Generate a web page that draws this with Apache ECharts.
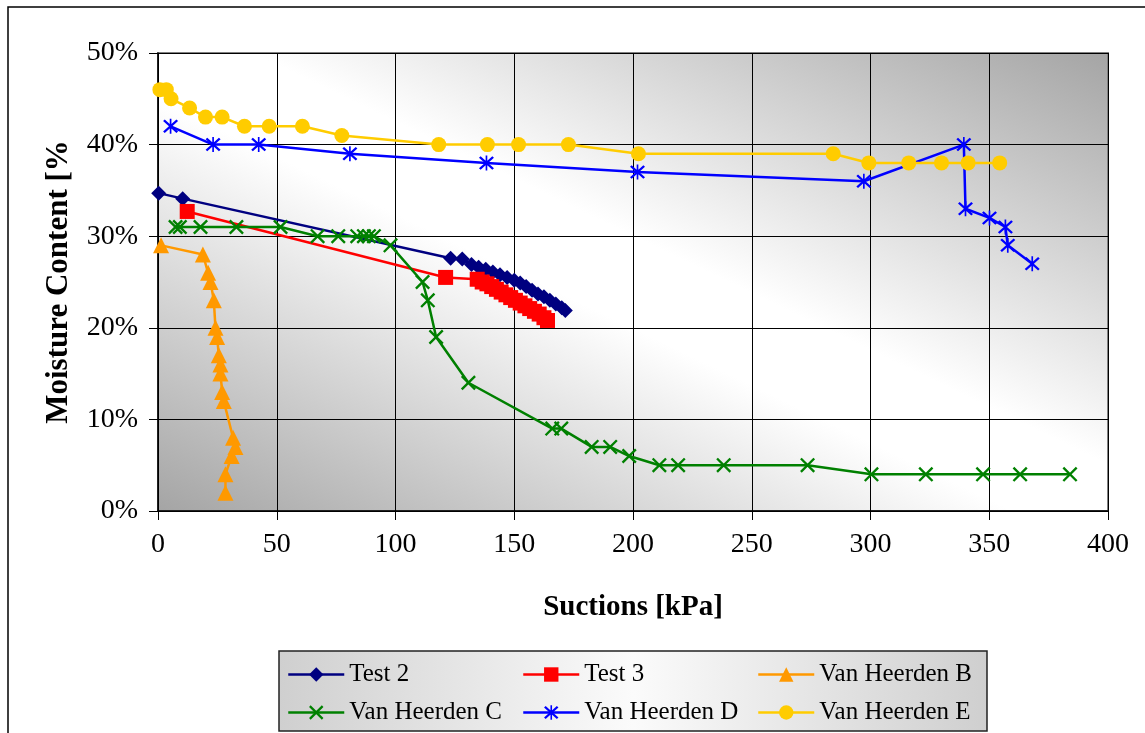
<!DOCTYPE html>
<html>
<head>
<meta charset="utf-8">
<script src="https://cdn.jsdelivr.net/npm/echarts@6/dist/echarts.min.js"></script>
<style>
  html, body { margin: 0; padding: 0; background: #ffffff; }
  #chart { width: 1145px; height: 733px; }
</style>
</head>
<body>
<div id="chart"></div>
<script>
// Suction [kPa] vs moisture content [%] pairs for each test series
const test2 = [
  [0.3, 34.7], [10.4, 34.1], [123.2, 27.6], [128.1, 27.5], [132, 26.9], [135, 26.6],
  [138, 26.4], [141, 26.1], [144, 25.8], [147, 25.5], [150, 25.2], [152.5, 24.9],
  [155, 24.5], [157.5, 24.1], [160, 23.7], [162.5, 23.4], [165, 23.0], [167.5, 22.6],
  [170, 22.2], [171.5, 21.9]
];
const test3 = [
  [12.3, 32.7], [121.1, 25.5], [134.4, 25.3], [136.5, 25.0], [138.5, 24.8], [140.5, 24.5],
  [142.5, 24.2], [144.5, 23.9], [146.5, 23.6], [148.5, 23.3], [150.5, 23.0], [152.5, 22.7],
  [154.5, 22.4], [156.5, 22.1], [158.5, 21.8], [160.5, 21.5], [162.5, 21.1], [164, 20.8]
];
const vanHeerdenB = [
  [1.3, 29], [18.9, 28], [21.1, 26], [22.1, 25], [23.5, 23], [24.2, 20], [24.9, 19],
  [25.6, 17], [26.3, 16], [26.3, 15], [27, 13], [27.7, 12], [31.6, 8], [32.6, 7],
  [31, 6], [28.4, 4], [28.4, 2]
];
const vanHeerdenC = [
  [7.4, 31], [9.2, 31], [17.9, 31], [33, 31], [51.6, 31], [67.2, 30], [75.9, 30],
  [83.9, 30], [86.7, 30], [88.8, 30], [90.9, 30], [97.9, 29], [111.4, 25], [113.6, 23],
  [117.1, 19], [130.7, 14], [166, 9], [169.8, 9], [182.6, 7], [190.4, 7], [198.4, 6],
  [211.1, 5], [219, 5], [238.2, 5], [273.5, 5], [300.4, 4], [323.3, 4], [347.4, 4],
  [363, 4], [384, 4]
];
const vanHeerdenD = [
  [5.3, 42], [23.2, 40], [42.4, 40], [80.8, 39], [138.3, 38], [201.9, 37], [297.2, 36],
  [339.3, 40], [340, 33], [350.1, 32], [356.8, 31], [357.8, 29], [368.1, 27]
];
const vanHeerdenE = [
  [0.8, 46], [3.5, 46], [5.5, 45], [13.3, 44], [20, 43], [27, 43], [36.4, 42], [46.8, 42],
  [60.8, 42], [77.4, 41], [118.2, 40], [138.7, 40], [151.8, 40], [172.8, 40], [202.3, 39],
  [284.3, 39], [299.3, 38], [316.1, 38], [329.9, 38], [341.1, 38], [354.4, 38]
];

const seriesNames = ['Test 2', 'Test 3', 'Van Heerden B', 'Van Heerden C', 'Van Heerden D', 'Van Heerden E'];
const xTitle = 'Suctions [kPa]';
const yTitle = 'Moisture Content [%]';

// Marker shapes: an "x" cross and an asterisk (cross plus vertical bar)
const crossPath = 'path://M1,3 L3,1 L19,17 L17,19 Z M17,1 L19,3 L3,19 L1,17 Z';
const starPath = 'path://M9,0 L11,0 L11,20 L9,20 Z M1,3 L3,1 L19,17 L17,19 Z M17,1 L19,3 L3,19 L1,17 Z';

const serif = 'Liberation Serif, Times New Roman, serif';

function lineSeries(name, data, color, symbol, size) {
  return {
    name: name,
    type: 'line',
    data: data,
    color: color,
    symbol: symbol,
    symbolSize: size,
    showAllSymbol: true,
    clip: false,
    lineStyle: { color: color, width: 2.5 },
    itemStyle: { color: color, borderWidth: 0 },
    emphasis: { disabled: true }
  };
}

// One legend block per entry, laid out as a 3 x 2 table
const legendCols = [287, 522, 757];
const legendRows = [662, 700];
const legends = seriesNames.map(function (n, i) {
  return {
    data: [n],
    left: legendCols[i % 3],
    top: legendRows[Math.floor(i / 3)],
    orient: 'horizontal',
    itemWidth: 56,
    itemHeight: 18,
    selectedMode: false,
    padding: 0,
    lineStyle: { width: 2.5 },
    textStyle: { fontFamily: serif, fontSize: 25, color: '#000' }
  };
});

const chart = echarts.init(document.getElementById('chart'), null, { renderer: 'canvas' });

chart.setOption({
  animation: false,
  backgroundColor: '#ffffff',
  graphic: [
    {
      type: 'rect',
      shape: { x: 8, y: 7, width: 1200, height: 800 },
      style: { fill: 'none', stroke: '#000', lineWidth: 1.5 },
      z: -10
    },
    {
      type: 'rect',
      shape: { x: 279, y: 651, width: 708, height: 80 },
      style: {
        stroke: '#222',
        lineWidth: 1.5,
        fill: {
          type: 'linear', x: 0, y: 0, x2: 1, y2: 0,
          colorStops: [
            { offset: 0, color: '#cfcfcf' },
            { offset: 0.5, color: '#fbfbfb' },
            { offset: 1, color: '#cfcfcf' }
          ]
        }
      },
      z: -5
    }
  ],
  grid: {
    left: 158, right: 37, top: 53, bottom: 222,
    show: true,
    borderColor: '#808080',
    borderWidth: 2,
    backgroundColor: {
      type: 'linear',
      x: 0.3114, y: 1.3116, x2: 0.6886, y2: -0.3116,
      colorStops: [
        { offset: 0, color: '#a4a4a4' },
        { offset: 0.45, color: '#ffffff' },
        { offset: 0.55, color: '#ffffff' },
        { offset: 1, color: '#a4a4a4' }
      ]
    }
  },
  legend: legends,
  xAxis: {
    type: 'value',
    min: 0, max: 400, interval: 50,
    name: xTitle,
    nameLocation: 'middle',
    nameGap: 82,
    nameTextStyle: { fontFamily: serif, fontSize: 29, fontWeight: 'bold', color: '#000' },
    axisLine: { show: true, onZero: false, lineStyle: { color: '#000', width: 1.5 } },
    axisTick: { show: true, length: 9, lineStyle: { color: '#000', width: 1 } },
    axisLabel: { fontFamily: serif, fontSize: 28, color: '#000', margin: 20 },
    splitLine: { show: true, lineStyle: { color: '#000', width: 1 } }
  },
  yAxis: {
    type: 'value',
    min: 0, max: 50, interval: 10,
    name: yTitle,
    nameLocation: 'middle',
    nameRotate: 90,
    nameGap: 84,
    nameTruncate: { maxWidth: 290, ellipsis: '' },
    nameTextStyle: { fontFamily: serif, fontSize: 31, fontWeight: 'bold', color: '#000' },
    axisLine: { show: true, lineStyle: { color: '#000', width: 1.5 } },
    axisTick: { show: true, length: 9, lineStyle: { color: '#000', width: 1 } },
    axisLabel: { fontFamily: serif, fontSize: 28, color: '#000', margin: 20, formatter: '{value}%' },
    splitLine: { show: true, lineStyle: { color: '#000', width: 1 } }
  },
  series: [
    lineSeries(seriesNames[0], test2, '#000080', 'diamond', 15),
    lineSeries(seriesNames[1], test3, '#ff0000', 'rect', 15),
    lineSeries(seriesNames[2], vanHeerdenB, '#ff9900', 'triangle', 16),
    lineSeries(seriesNames[3], vanHeerdenC, '#008000', crossPath, 15),
    lineSeries(seriesNames[4], vanHeerdenD, '#0000ff', starPath, 15),
    lineSeries(seriesNames[5], vanHeerdenE, '#ffcc00', 'circle', 15)
  ]
});
</script>
</body>
</html>
